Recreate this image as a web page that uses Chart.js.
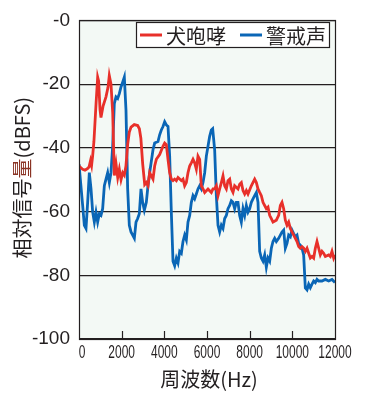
<!DOCTYPE html>
<html>
<head>
<meta charset="utf-8">
<script src="https://cdn.jsdelivr.net/npm/chart.js@4.4.0/dist/chart.umd.min.js"></script>
<style>
  html, body { margin: 0; padding: 0; background: #ffffff; }
  canvas { display: block; }
</style>
</head>
<body>
<canvas id="spectrum" width="378" height="408"></canvas>
<script>
// series names
const seriesNames = ['犬咆哮', '警戒声'];

// 犬咆哮 (red) - frequency (Hz) and level (dBFS)
const barkHz = [
    0, 170, 280, 400, 470, 540, 590, 640, 700, 800,
    875, 920, 985, 1030, 1125, 1265, 1360, 1420, 1500, 1580,
    1655, 1735, 1815, 1890, 1970, 2050, 2125, 2200, 2280, 2360,
    2440, 2590, 2750, 2830, 2900, 2985, 3080, 3156, 3234, 3313,
    3390, 3469, 3547, 3625, 3781, 3937, 4016, 4094, 4172, 4250,
    4328, 4406, 4484, 4563, 4641, 4719, 4797, 4875, 4953, 5031,
    5109, 5188, 5266, 5344, 5422, 5500, 5578, 5656, 5734, 5812,
    5891, 6047, 6203, 6281, 6359, 6438, 6516, 6594, 6672, 6750,
    6828, 6906, 6984, 7063, 7141, 7219, 7297, 7453, 7531, 7609,
    7688, 7766, 7844, 7922, 8078, 8234, 8313, 8391, 8469, 8547,
    8625, 8703, 8781, 8859, 8938, 9016, 9094, 9250, 9359, 9438,
    9516, 9594, 9672, 9750, 9828, 9906, 9984, 10063, 10141, 10219,
    10297, 10375, 10453, 10531, 10609, 10688, 10766, 10844, 10922, 11000,
    11078, 11156, 11234, 11313, 11391, 11469, 11547, 11703, 11781, 11859,
    11938, 12000
];
const barkDb = [
    -45.7, -46.7, -47, -46.5, -46, -44, -45.5, -42.5, -38, -26,
    -17.8, -19, -28, -30.5, -27, -24, -21, -17.3, -20, -29,
    -48.7, -45, -49.3, -46.7, -50, -47.8, -48.6, -45.7, -39, -35,
    -33.5, -32.7, -33, -34, -37, -45, -51.5, -50.9, -51.9, -47.8,
    -48.8, -49.8, -45.7, -43.6, -42.1, -39.5, -38.5, -39, -43.6, -47.8,
    -49.8, -50.3, -49.8, -50.3, -49.3, -49.8, -50.3, -49.8, -51.9, -50.9,
    -47.8, -45.7, -44.7, -43.6, -44.7, -46.7, -42.6, -43.6, -51.9, -52.9,
    -54, -52.9, -54, -52.9, -52.9, -51.9, -55, -52.9, -50.9, -48.8,
    -51.9, -52.9, -50.3, -49.8, -52.9, -54, -51.9, -52.9, -51.4, -50.9,
    -53.4, -54.5, -53.4, -54.5, -51.9, -49.8, -50.9, -52.9, -54, -55,
    -57.1, -58.1, -59.1, -58.6, -61.2, -62.2, -63.3, -62.7, -61.2, -58.1,
    -57.1, -59.1, -62.7, -64.3, -63.3, -65.3, -66.4, -67.4, -68.4, -69.4,
    -71, -71.5, -71, -71.5, -72.5, -71.5, -73.1, -74.6, -74.1, -74.6,
    -71.5, -69.4, -71.5, -73.6, -72.5, -73.1, -74.1, -73.6, -74.1, -72.5,
    -74.6, -73.6
];

// 警戒声 (blue)
const alarmHz = [
    0, 172, 250, 328, 406, 484, 563, 641, 719, 797,
    875, 953, 1031, 1109, 1188, 1266, 1344, 1422, 1500, 1578,
    1656, 1734, 1813, 1891, 1969, 2047, 2125, 2203, 2281, 2359,
    2438, 2516, 2594, 2672, 2750, 2828, 2906, 2984, 3063, 3156,
    3234, 3313, 3469, 3547, 3703, 3781, 3859, 3938, 4016, 4094,
    4172, 4250, 4328, 4406, 4484, 4563, 4641, 4719, 4797, 4875,
    4953, 5031, 5109, 5188, 5266, 5344, 5422, 5500, 5578, 5656,
    5734, 5813, 5891, 5969, 6047, 6125, 6203, 6266, 6359, 6438,
    6516, 6594, 6672, 6750, 6828, 6906, 6984, 7063, 7141, 7219,
    7297, 7375, 7453, 7531, 7609, 7688, 7766, 7844, 7922, 8000,
    8078, 8156, 8234, 8313, 8391, 8469, 8547, 8625, 8703, 8781,
    8859, 8938, 9016, 9094, 9172, 9250, 9359, 9438, 9516, 9594,
    9672, 9750, 9828, 9906, 9984, 10063, 10141, 10219, 10297, 10375,
    10453, 10531, 10609, 10688, 10766, 10844, 10922, 11000, 11078, 11156,
    11234, 11391, 11547, 11703, 11859, 12000
];
const alarmDb = [
    -45.1, -58.1, -64.3, -65.3, -57.1, -47.8, -52.9, -60.2, -63.3, -60.2,
    -63.3, -60.7, -61.2, -59.1, -51.9, -49.8, -47.8, -50.9, -47.8, -39.5,
    -26.1, -24, -24.5, -23, -20.9, -19.4, -17.8, -28.2, -52.9, -64.3,
    -66.4, -67.4, -68.4, -63.3, -62.2, -60.7, -52.9, -57.1, -59.6, -57.1,
    -51.9, -47.8, -40.6, -38.5, -38, -35.9, -34.4, -33.3, -31.8, -32.8,
    -33.3, -42.6, -60.2, -75.6, -77, -74.6, -76.1, -72.5, -73.1, -69.4,
    -67.4, -68.9, -63.3, -61.2, -57.1, -55, -56, -54.5, -52.9, -51.9,
    -52.9, -50.9, -47.8, -42.6, -39.5, -36.4, -34.4, -34, -40.6, -55,
    -64.3, -66.4, -64.3, -65.3, -62.2, -61.2, -59.1, -58.1, -56.6, -57.1,
    -59.1, -57.1, -57.1, -61.2, -63.3, -59.1, -61.2, -58.1, -60.2, -59.1,
    -57.1, -56, -55, -54, -57.1, -72.5, -74.6, -75.6, -73.6, -77.5,
    -74.6, -75.6, -71.5, -69.4, -68.4, -69.4, -68.4, -67.4, -66.4, -65.8,
    -71.5, -70, -67.4, -67.9, -65.8, -66.9, -67.9, -67.4, -70, -70.5,
    -71.5, -73.6, -84, -84.6, -82.8, -83.9, -82.8, -81.8, -82.3, -81.3,
    -81.8, -81.8, -81.3, -81.8, -81.3, -82.3
];

// axis setup
const xMin = 0, xMax = 12000, xStep = 2000;
const yMin = -100, yMax = 0, yStep = 20;
const xTitle = '周波数(Hz)';
const yTitleParts = ['相対信号', '量', '(dBFS)'];

const inkColour = '#231f20';
const redColour = '#e8302a';
const blueColour = '#0a66b6';
const cjkFont = '"Noto Sans CJK JP", "Noto Sans", sans-serif';
const numFont = '"Liberation Sans", Arial, sans-serif';

function toPoints(xs, ys) {
    return xs.map((x, i) => ({ x: x, y: ys[i] }));
}

// background, frame, inward ticks, squeezed x labels, titles and boxed legend
const decorations = {
    id: 'decorations',
    beforeDraw(chart) {
        const { ctx, chartArea: a } = chart;
        ctx.save();
        ctx.fillStyle = '#f3f9f5';
        ctx.fillRect(a.left, a.top, a.right - a.left, a.bottom - a.top);
        ctx.restore();
    },
    afterDatasetsDraw(chart) {
        const { ctx, chartArea: a } = chart;
        const xs = chart.scales.x;
        ctx.save();
        ctx.strokeStyle = inkColour;
        ctx.lineWidth = 1.2;
        ctx.strokeRect(Math.round(a.left) + 0.5, Math.round(a.top) + 0.5,
            Math.round(a.right - a.left), Math.round(a.bottom - a.top));

        // inward tick marks on the bottom axis
        xs.ticks.forEach(t => {
            if (t.value === xMin || t.value === xMax) return;
            const px = Math.round(xs.getPixelForValue(t.value)) + 0.5;
            ctx.beginPath();
            ctx.moveTo(px, a.bottom);
            ctx.lineTo(px, a.bottom - 8);
            ctx.stroke();
        });

        // x tick labels, drawn narrow like the original
        ctx.fillStyle = inkColour;
        ctx.font = '19px ' + numFont;
        ctx.textAlign = 'center';
        ctx.textBaseline = 'middle';
        xs.ticks.forEach(t => {
            const px = xs.getPixelForValue(t.value);
            ctx.save();
            ctx.translate(t.value === xMin ? px + 3 : px, a.bottom + 14);
            ctx.scale(0.63, 1);
            ctx.fillText(String(t.value), 0, 0);
            ctx.restore();
        });

        // x title
        ctx.font = '20px ' + cjkFont;
        ctx.fillText(xTitle, (a.left + a.right) / 2 + 2, a.bottom + 40);

        // y title (rotated, one character tinted as in the print)
        ctx.save();
        ctx.translate(22, (a.top + a.bottom) / 2 - 2);
        ctx.rotate(-Math.PI / 2);
        ctx.textAlign = 'left';
        ctx.font = '20px ' + cjkFont;
        const colours = [inkColour, '#8a3324', inkColour];
        let total = 0;
        yTitleParts.forEach(p => { total += ctx.measureText(p).width; });
        let pos = -total / 2;
        yTitleParts.forEach((p, i) => {
            ctx.fillStyle = colours[i];
            ctx.fillText(p, pos, 0);
            pos += ctx.measureText(p).width;
        });
        ctx.restore();

        // legend box
        const bx = 136.5, by = 22.5, bw = 193, bh = 25;
        ctx.fillStyle = '#ffffff';
        ctx.fillRect(bx, by, bw, bh);
        ctx.strokeStyle = inkColour;
        ctx.lineWidth = 1.2;
        ctx.strokeRect(bx, by, bw, bh);
        const itemX = [140, 240];
        ctx.font = '20px ' + cjkFont;
        ctx.textAlign = 'left';
        ctx.textBaseline = 'middle';
        chart.data.datasets.forEach((ds, i) => {
            ctx.strokeStyle = ds.borderColor;
            ctx.lineWidth = 3;
            ctx.beginPath();
            ctx.moveTo(itemX[i], by + bh / 2);
            ctx.lineTo(itemX[i] + 22, by + bh / 2);
            ctx.stroke();
            ctx.fillStyle = inkColour;
            ctx.fillText(ds.label, itemX[i] + 26, by + bh / 2 + 1);
        });
        ctx.restore();
    }
};

const ctx = document.getElementById('spectrum').getContext('2d');
new Chart(ctx, {
    type: 'line',
    data: {
        datasets: [
            {
                label: seriesNames[0],
                data: toPoints(barkHz, barkDb),
                borderColor: redColour,
                borderWidth: 2.8,
                pointRadius: 0,
                tension: 0
            },
            {
                label: seriesNames[1],
                data: toPoints(alarmHz, alarmDb),
                borderColor: blueColour,
                borderWidth: 2.8,
                pointRadius: 0,
                tension: 0
            }
        ]
    },
    options: {
        responsive: false,
        animation: false,
        devicePixelRatio: 1,
        layout: { padding: { top: 16, right: 43, left: 0, bottom: 0 } },
        plugins: {
            legend: { display: false },
            tooltip: { enabled: false }
        },
        scales: {
            x: {
                type: 'linear',
                min: xMin,
                max: xMax,
                ticks: { stepSize: xStep, display: false },
                grid: { display: false },
                border: { display: false },
                afterFit: scale => { scale.height = 69; }
            },
            y: {
                min: yMin,
                max: yMax,
                ticks: {
                    stepSize: yStep,
                    padding: 9,
                    color: inkColour,
                    font: { family: numFont, size: 19 },
                    callback: v => (v === 0 ? '-0' : String(v))
                },
                grid: { color: inkColour, lineWidth: 1.2, drawTicks: false },
                border: { display: false },
                afterFit: scale => { scale.height; scale.width = 79; }
            }
        }
    },
    plugins: [decorations]
});
</script>
</body>
</html>
